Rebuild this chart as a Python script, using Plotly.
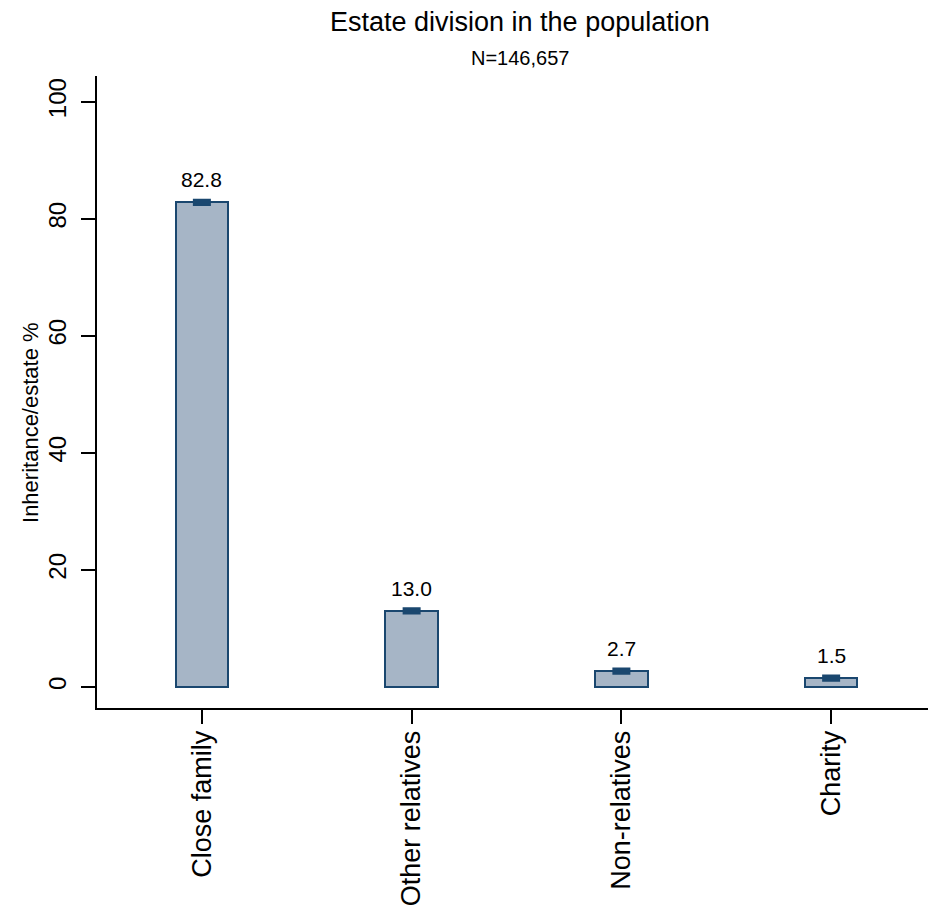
import plotly.graph_objects as go

categories = ["Close family", "Other relatives", "Non-relatives", "Charity"]
values = [82.8, 13.0, 2.7, 1.5]
ci_half = [0.25, 0.25, 0.25, 0.25]
value_labels = ["82.8", "13.0", "2.7", "1.5"]
y_ticks = [0, 20, 40, 60, 80, 100]

FONT = "Liberation Sans, Arial, Helvetica, sans-serif"
DARK = "#1a476f"
FILL = "#a6b5c6"

fig = go.Figure()
fig.add_trace(go.Bar(
    x=categories, y=values, width=0.25,
    marker=dict(color=FILL, line=dict(color=DARK, width=2)),
    error_y=dict(type="data", array=ci_half, visible=True, color=DARK,
                 thickness=4.5, width=9),
    hoverinfo="skip",
))

for c, v, t in zip(categories, values, value_labels):
    fig.add_annotation(x=c, y=v, text=t, showarrow=False, yanchor="bottom",
                       yshift=9, font=dict(family=FONT, size=21, color="black"))

# titles
fig.add_annotation(xref="paper", yref="paper", x=0.504, y=1.0854, text="Estate division in the population",
                   showarrow=False, xanchor="center", yanchor="middle",
                   font=dict(family=FONT, size=27, color="black"))
fig.add_annotation(xref="paper", yref="paper", x=0.504, y=1.0285, text="N=146,657",
                   showarrow=False, xanchor="center", yanchor="middle",
                   font=dict(family=FONT, size=20, color="black"))
fig.add_annotation(xref="paper", yref="paper", x=-0.0799, y=0.4525, text="Inheritance/estate %",
                   showarrow=False, xanchor="center", yanchor="middle", textangle=-90,
                   font=dict(family=FONT, size=22, color="black"))

# page body has an 8px default margin, so the figure is 8px smaller than the window
fig.update_layout(
    width=928, height=901,
    paper_bgcolor="white", plot_bgcolor="white",
    margin=dict(l=89, r=0, t=68, b=201),
    showlegend=False,
    font=dict(family=FONT, color="black"),
    bargap=0,
)
fig.update_xaxes(
    range=[-0.5, 3.5], showline=True, linecolor="black", linewidth=2,
    ticks="outside", ticklen=14, tickwidth=1.5, tickcolor="black",
    tickangle=-90, tickfont=dict(family=FONT, size=27, color="black"),
    ticklabelstandoff=-4,
    showgrid=False, zeroline=False, automargin=False,
)
fig.update_yaxes(
    range=[-3.6, 104.4], showline=True, linecolor="black", linewidth=2,
    ticks="outside", ticklen=14, tickwidth=1.5, tickcolor="black",
    tickvals=y_ticks, ticktext=[str(v) for v in y_ticks],
    tickangle=-90, tickfont=dict(family=FONT, size=24, color="black"),
    ticklabelstandoff=5,
    showgrid=False, zeroline=False, automargin=False,
)

fig.write_html("out.html")
